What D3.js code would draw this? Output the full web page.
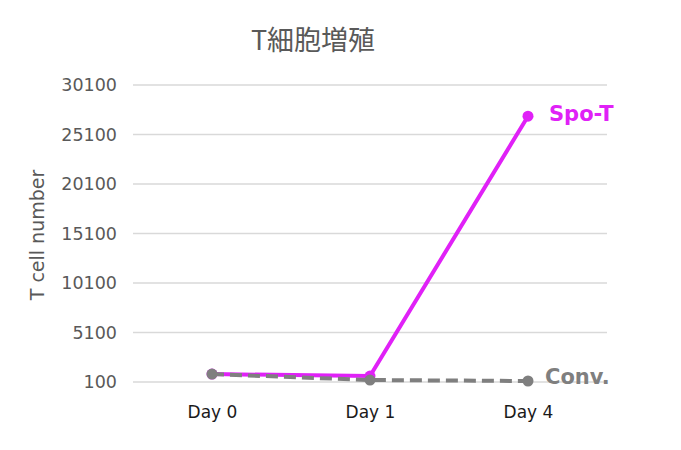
<!DOCTYPE html>
<html>
<head>
<meta charset="utf-8">
<script src="https://cdn.jsdelivr.net/npm/d3@7"></script>
<style>
  body { margin: 0; background: #fff; }
  text { font-family: "DejaVu Sans", Verdana, sans-serif; }
</style>
</head>
<body>
<svg id="chart"></svg>
<script>
// data
const days = ["Day 0", "Day 1", "Day 4"];
const spoT = [900, 700, 26950];
const conv = [900, 300, 200];
const yTicks = [100, 5100, 10100, 15100, 20100, 25100, 30100];

const W = 681, H = 450;
const margin = { top: 85, right: 74, bottom: 68, left: 133 };
const width = W - margin.left - margin.right,
  height = H - margin.top - margin.bottom;

const root = d3.select("#chart").attr("width", W).attr("height", H);
const svg = root.append("g")
  .attr("transform", "translate(" + margin.left + "," + margin.top + ")");

const x = d3.scalePoint().domain(days).range([0, width]).padding(0.5);
const y = d3.scaleLinear().domain([100, 30100]).range([height, 0]);

// gridlines
svg.append("g")
  .selectAll("line")
  .data(yTicks)
  .enter()
  .append("line")
  .attr("x1", 0)
  .attr("x2", width)
  .attr("y1", d => y(d))
  .attr("y2", d => y(d))
  .attr("stroke", "#d9d9d9")
  .attr("stroke-width", 1.3);

// y axis labels
const yAxis = svg.append("g")
  .call(d3.axisLeft(y).tickValues(yTicks).tickSize(0).tickPadding(16).tickFormat(d3.format("d")));
yAxis.select(".domain").remove();
yAxis.selectAll("text").attr("fill", "#595959").style("font-size", "17.5px");

// x axis labels
const xAxis = svg.append("g")
  .attr("transform", "translate(0," + height + ")")
  .call(d3.axisBottom(x).tickSize(0).tickPadding(24));
xAxis.select(".domain").remove();
xAxis.selectAll("text").attr("fill", "#1a1a1a").style("font-size", "17px");

const line = d3.line()
  .x((d, i) => x(days[i]))
  .y(d => y(d));

function series(vals, color, dash) {
  svg.append("path")
    .datum(vals)
    .attr("fill", "none")
    .attr("stroke", color)
    .attr("stroke-width", 4)
    .attr("stroke-dasharray", dash)
    .attr("d", line);
  svg.append("g")
    .selectAll("circle")
    .data(vals)
    .enter()
    .append("circle")
    .attr("cx", (d, i) => x(days[i]))
    .attr("cy", d => y(d))
    .attr("r", 5.5)
    .attr("fill", color);
}

series(spoT, "#e021f7", null);
series(conv, "#7f7f7f", "12,6");

// series labels
svg.append("text")
  .attr("x", x("Day 4") + 21)
  .attr("y", y(spoT[2]) + 5)
  .attr("fill", "#e021f7")
  .style("font-size", "21px")
  .style("font-weight", "bold")
  .text("Spo-T");
svg.append("text")
  .attr("x", x("Day 4") + 17)
  .attr("y", y(conv[2]) + 3)
  .attr("fill", "#7f7f7f")
  .style("font-size", "21px")
  .style("font-weight", "bold")
  .text("Conv.");

// title
root.append("text")
  .attr("x", 313)
  .attr("y", 50)
  .attr("text-anchor", "middle")
  .attr("fill", "#595959")
  .style("font-family", "'Noto Sans CJK JP', sans-serif")
  .style("font-size", "27px")
  .text("T細胞増殖");

// y axis title
root.append("text")
  .attr("transform", "translate(44,235) rotate(-90)")
  .attr("text-anchor", "middle")
  .attr("fill", "#595959")
  .style("font-size", "19px")
  .text("T cell number");
</script>
</body>
</html>
